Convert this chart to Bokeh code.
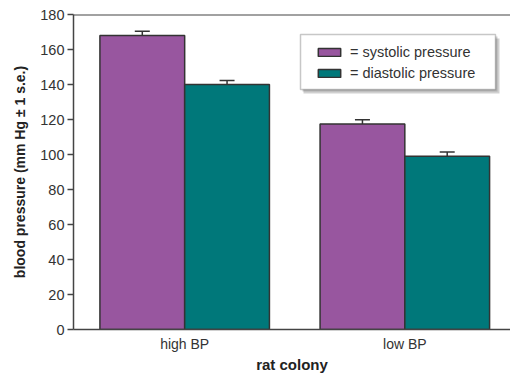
from bokeh.plotting import figure
from bokeh.models import (Range1d, FixedTicker, Whisker, TeeHead, ColumnDataSource,
                          Legend, LegendItem, BoxAnnotation, Span)
from bokeh.embed import file_html
from bokeh.resources import INLINE

# ---- data ----
colonies = ["high BP", "low BP"]
systolic = [168, 117.5]
systolic_se = [2.4, 2.3]
diastolic = [140, 99]
diastolic_se = [2.3, 2.5]
y_ticks = [0, 20, 40, 60, 80, 100, 120, 140, 160, 180]

PURPLE = "#98569F"
TEAL = "#00787A"
EDGE = "#333333"
FONT = "Liberation Sans"

W, H = 510, 375
BL, BR, BT, BB = 73, 0, 14, 46
x0, x1 = -0.505, 1.48
y0, y1 = 0, 180

p = figure(width=W, height=H, output_backend="svg", toolbar_location=None,
           x_range=Range1d(x0, x1), y_range=Range1d(y0, y1),
           min_border_left=BL, min_border_right=BR, min_border_top=BT, min_border_bottom=BB)
p.background_fill_color = "white"
p.border_fill_color = "white"
p.outline_line_color = None
p.grid.visible = False

bw = 0.385
xs = list(range(len(colonies)))
src_s = ColumnDataSource(dict(x=[c - bw / 2 for c in xs], top=systolic,
                              up=[v + e for v, e in zip(systolic, systolic_se)]))
src_d = ColumnDataSource(dict(x=[c + bw / 2 for c in xs], top=diastolic,
                              up=[v + e for v, e in zip(diastolic, diastolic_se)]))

rs = p.vbar(x="x", top="top", width=bw, source=src_s, fill_color=PURPLE,
            line_color=EDGE, line_width=1.5)
rd = p.vbar(x="x", top="top", width=bw, source=src_d, fill_color=TEAL,
            line_color=EDGE, line_width=1.5)

for src in (src_s, src_d):
    wk = Whisker(base="x", lower="top", upper="up", source=src,
                 line_color=EDGE, line_width=1.5, lower_head=None,
                 upper_head=TeeHead(size=15, line_color=EDGE, line_width=1.5))
    p.add_layout(wk)

# top frame line
p.add_layout(Span(location=y1, dimension="width", line_color="#444444", line_width=2))

# axes
ya = p.yaxis[0]
ya.ticker = FixedTicker(ticks=y_ticks)
ya.minor_tick_line_color = None
ya.major_tick_in = 0
ya.major_tick_out = 6
ya.major_tick_line_color = "#444444"
ya.major_tick_line_width = 1.5
ya.axis_line_color = "#444444"
ya.axis_line_width = 1.5
ya.major_label_text_font = FONT
ya.major_label_text_font_size = "14.5px"
ya.major_label_text_color = "#333333"
ya.major_label_standoff = 3
ya.axis_label = "blood pressure (mm Hg ± 1 s.e.)"
ya.axis_label_text_font = FONT
ya.axis_label_text_font_style = "bold"
ya.axis_label_text_font_size = "14px"
ya.axis_label_text_color = "#222222"
ya.axis_label_standoff = 9

xa = p.xaxis[0]
xa.ticker = FixedTicker(ticks=xs)
xa.major_label_overrides = {i: c for i, c in zip(xs, colonies)}
xa.minor_tick_line_color = None
xa.major_tick_line_color = None
xa.major_tick_out = 0
xa.major_tick_in = 0
xa.axis_line_color = "#444444"
xa.axis_line_width = 1.5
xa.major_label_text_font = FONT
xa.major_label_text_font_size = "14px"
xa.major_label_text_color = "#333333"
xa.major_label_standoff = 6
xa.axis_label = "rat colony"
xa.axis_label_text_font = FONT
xa.axis_label_text_font_style = "bold"
xa.axis_label_text_font_size = "15px"
xa.axis_label_text_color = "#222222"
xa.axis_label_standoff = 1

# legend box (pixel layout converted to data units)
frame_w = W - BL - BR
frame_h = H - BT - BB
def dx(px):  # px from frame left
    return x0 + px / frame_w * (x1 - x0)
def dy(py):  # py from frame top
    return y1 - py / frame_h * (y1 - y0)

bx_l, bx_r, bx_t, bx_b = 227, 422, 20, 75
p.add_layout(BoxAnnotation(left=dx(bx_l + 3), right=dx(bx_r + 4), top=dy(bx_t + 4), bottom=dy(bx_b + 4),
                           fill_color="#777777", fill_alpha=0.35, line_color=None))
p.add_layout(BoxAnnotation(left=dx(bx_l + 2), right=dx(bx_r + 2), top=dy(bx_t + 2), bottom=dy(bx_b + 2),
                           fill_color="#666666", fill_alpha=0.3, line_color=None))
p.add_layout(BoxAnnotation(left=dx(bx_l), right=dx(bx_r), top=dy(bx_t), bottom=dy(bx_b),
                           fill_color="white", fill_alpha=1.0, line_color="#444444", line_width=1.5))

legend = Legend(items=[LegendItem(label="= systolic pressure", renderers=[rs]),
                       LegendItem(label="= diastolic pressure", renderers=[rd])],
                location=(242, frame_h - 69), padding=0, margin=0, spacing=1,
                glyph_width=28, glyph_height=10, label_height=20, label_standoff=7,
                border_line_color=None, background_fill_alpha=0,
                label_text_font=FONT, label_text_font_size="14.5px",
                label_text_color="#333333")
p.add_layout(legend, "center")

open("out.html", "w").write(file_html(p, INLINE))
